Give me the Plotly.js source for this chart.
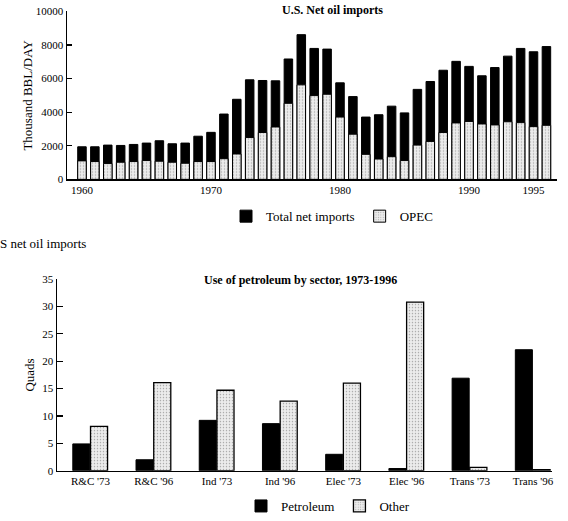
<!DOCTYPE html>
<html>
<head>
<meta charset="utf-8">
<script src="https://cdn.plot.ly/plotly-3.0.1.min.js"></script>
<style>
  html, body { margin: 0; padding: 0; background: #fff; }
  #chart { width: 568px; height: 521px; }
</style>
</head>
<body>
<div id="chart"></div>
<script>
// ---- Top chart: U.S. Net oil imports (thousand bbl/day) ----
const years = [1960,1961,1962,1963,1964,1965,1966,1967,1968,1969,
               1970,1971,1972,1973,1974,1975,1976,1977,1978,1979,
               1980,1981,1982,1983,1984,1985,1986,1987,1988,1989,
               1990,1991,1992,1993,1994,1995,1996];
const totalImports = [1940,1940,2040,2020,2080,2160,2300,2120,2160,2570,
                      2800,3890,4770,5930,5890,5870,7170,8620,7800,7760,
                      5750,4930,3710,3850,4360,3960,5360,5830,6500,7030,
                      6730,6170,6660,7340,7800,7600,7910];
const opecImports = [1100,1060,940,1020,1060,1120,1080,1020,960,1060,
                     1060,1230,1510,2490,2790,3120,4530,5630,4990,5070,
                     3710,2690,1490,1210,1350,1120,2040,2260,2790,3360,
                     3450,3300,3240,3430,3380,3140,3220];
const yearTicks = [1960, 1970, 1980, 1990, 1995];
const importTicks = [0, 2000, 4000, 6000, 8000, 10000];

// ---- Bottom chart: Use of petroleum by sector (quads) ----
const sectors = ["R&C '73", "R&C '96", "Ind '73", "Ind '96", "Elec '73", "Elec '96", "Trans '73", "Trans '96"];
const petroleum = [4.9, 2.0, 9.2, 8.6, 3.0, 0.4, 16.9, 22.1];
const other = [8.1, 16.1, 14.7, 12.7, 16.0, 30.8, 0.6, 0.2];
const quadTicks = [0, 5, 10, 15, 20, 25, 30, 35];

const serif = "Liberation Serif, Times New Roman, serif";
const stipple = {shape: '.', fgcolor: '#a8a8a8', bgcolor: '#ececec', size: 3, solidity: 0.18};

const traces = [
  {type: 'bar', x: years, y: totalImports, name: 'Total net imports',
   xaxis: 'x', yaxis: 'y', width: 0.66, legend: 'legend',
   marker: {color: '#000', line: {color: '#000', width: 1}}},
  {type: 'bar', x: years, y: opecImports, name: 'OPEC',
   xaxis: 'x', yaxis: 'y', width: 0.66, legend: 'legend',
   marker: {color: '#ececec', pattern: stipple, line: {color: '#000', width: 1}}},
  {type: 'bar', x: sectors, y: petroleum, name: 'Petroleum',
   xaxis: 'x2', yaxis: 'y2', width: 0.27, offset: -0.28, legend: 'legend2',
   marker: {color: '#000', line: {color: '#000', width: 1}}},
  {type: 'bar', x: sectors, y: other, name: 'Other',
   xaxis: 'x2', yaxis: 'y2', width: 0.27, offset: 0.0, legend: 'legend2',
   marker: {color: '#ececec', pattern: stipple, line: {color: '#000', width: 1.3}}}
];

const W = 568, H = 521;
const px = v => v / W;
const py = v => 1 - v / H;

const layout = {
  width: W, height: H,
  margin: {l: 0, r: 0, t: 0, b: 0},
  paper_bgcolor: '#fff', plot_bgcolor: '#fff',
  barmode: 'overlay',
  font: {family: serif, color: '#000', size: 11},
  showlegend: true,
  xaxis: {
    domain: [px(67), px(557)], anchor: 'y',
    range: [1958.84, 1996.82],
    tickmode: 'array', tickvals: yearTicks, ticktext: yearTicks.map(String),
    ticks: '', showgrid: false, zeroline: false,
    showline: true, linecolor: '#000', linewidth: 1.5,
    tickfont: {family: serif, size: 11}
  },
  yaxis: {
    domain: [py(182.5), py(11.7)], anchor: 'x',
    range: [0, 10000],
    tickmode: 'array', tickvals: importTicks, ticktext: importTicks.map(String),
    ticks: 'inside', ticklen: 5, tickwidth: 1.2, tickcolor: '#000',
    showgrid: false, zeroline: false,
    showline: true, linecolor: '#000', linewidth: 1.5,
    tickfont: {family: serif, size: 11},
    title: {text: 'Thousand BBL/DAY', font: {family: serif, size: 13}, standoff: 0}
  },
  xaxis2: {
    domain: [px(57), px(552)], anchor: 'y2',
    type: 'category', range: [-0.53, 7.3],
    ticks: '', showgrid: false, zeroline: false,
    showline: true, linecolor: '#000', linewidth: 1.5,
    tickfont: {family: serif, size: 11}
  },
  yaxis2: {
    domain: [py(479), py(284)], anchor: 'x2',
    range: [0, 35],
    tickmode: 'array', tickvals: quadTicks, ticktext: quadTicks.map(String),
    ticks: 'inside', ticklen: 6, tickwidth: 1.2, tickcolor: '#000',
    showgrid: false, zeroline: false,
    showline: true, linecolor: '#000', linewidth: 1.5,
    tickfont: {family: serif, size: 11},
    title: {text: 'Quads', font: {family: serif, size: 13}, standoff: 4}
  },
  legend: {
    orientation: 'h', x: px(332), xanchor: 'center', y: py(220), yanchor: 'middle',
    font: {family: serif, size: 13}, bgcolor: 'rgba(0,0,0,0)', itemwidth: 30,
    traceorder: 'normal'
  },
  legend2: {
    orientation: 'h', x: px(328), xanchor: 'center', y: py(515), yanchor: 'middle',
    font: {family: serif, size: 13}, bgcolor: 'rgba(0,0,0,0)', itemwidth: 30,
    traceorder: 'normal'
  },
  annotations: [
    {text: '<b>U.S. Net oil imports</b>', xref: 'paper', yref: 'paper',
     x: px(332), y: py(10), xanchor: 'center', yanchor: 'middle', showarrow: false,
     font: {family: serif, size: 12}},
    {text: '<b>Use of petroleum by sector, 1973-1996</b>', xref: 'paper', yref: 'paper',
     x: px(300), y: py(285), xanchor: 'center', yanchor: 'middle', showarrow: false,
     font: {family: serif, size: 12}},
    {text: 'S net oil imports', xref: 'paper', yref: 'paper',
     x: px(-2), y: py(248), xanchor: 'left', yanchor: 'middle', showarrow: false,
     font: {family: serif, size: 13}}
  ]
};

Plotly.newPlot('chart', traces, layout, {displayModeBar: false, staticPlot: true});
</script>
</body>
</html>
